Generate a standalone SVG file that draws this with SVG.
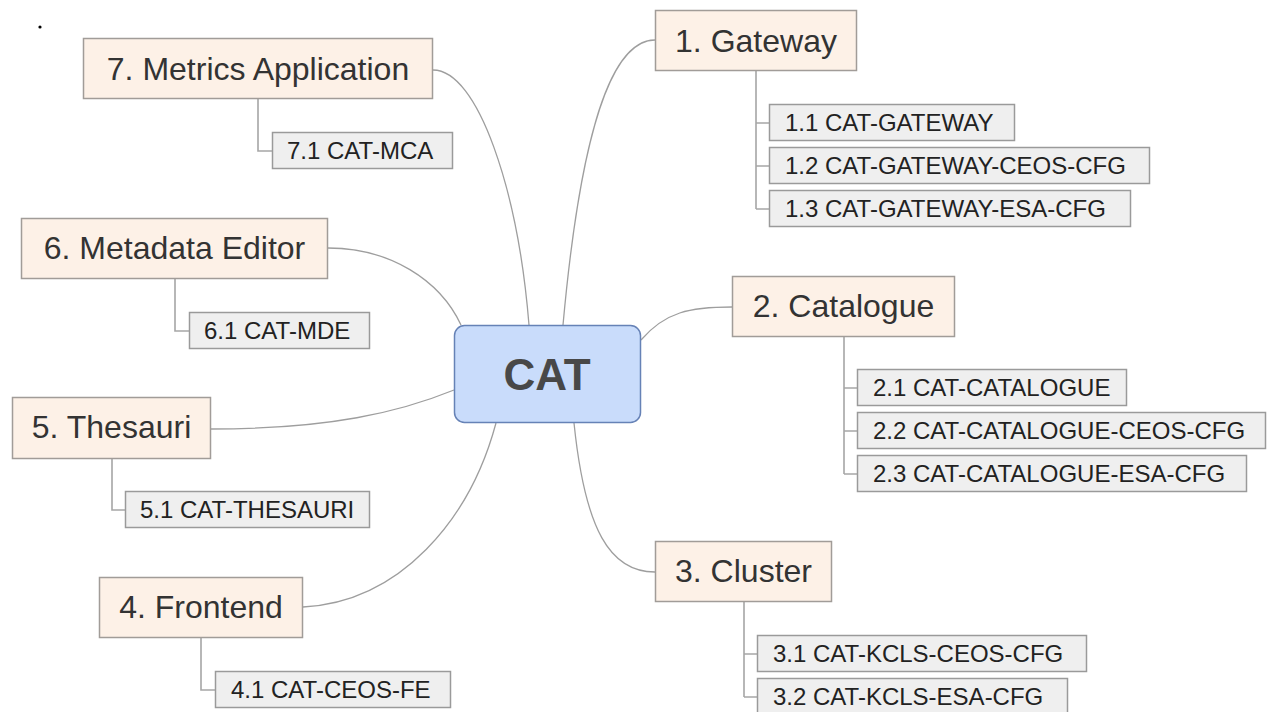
<svg xmlns="http://www.w3.org/2000/svg" width="1271" height="712" viewBox="0 0 1271 712">
<style>
.bg{fill:#ffffff}
.top rect{fill:#fdf1e7;stroke:#a19c98;stroke-width:1.5}
.top text{font-family:"Liberation Sans",Arial,sans-serif;font-size:32px;fill:#333333;text-anchor:middle}
.leaf rect{fill:#efefef;stroke:#9a9a9a;stroke-width:1.5}
.leaf text{font-family:"Liberation Sans",Arial,sans-serif;font-size:24px;fill:#222222}
.root rect{fill:#c9dcfb;stroke:#6682b6;stroke-width:1.5}
.root text{font-family:"Liberation Sans",Arial,sans-serif;font-size:44px;font-weight:bold;fill:#484848;text-anchor:middle}
#connectors path{fill:none;stroke:#9e9e9e;stroke-width:1.3}
#connectors .tree{stroke:#a6a6a6;stroke-width:1.6}
</style>
<rect class="bg" x="0" y="0" width="1271" height="712"/>
<circle cx="40" cy="27" r="1.6" fill="#000000"/>
<g id="connectors">
<path d="M563,325 C578,160 605,40 655,40"/>
<path d="M433,70 C478,70 518,190 529,325"/>
<path d="M328,248 C390,248 440,280 461,325"/>
<path d="M211,429 C330,429 400,412 454,390"/>
<path d="M303,607 C400,602 470,520 496,423"/>
<path d="M641,340 C665,312 690,307 732,307"/>
<path d="M574,423 C585,530 610,572 655,572"/>
<path class="tree" d="M756,71 V209 M756,123 H769 M756,166 H769 M756,209 H769"/>
<path class="tree" d="M844,337 V474 M844,388 H857 M844,431 H857 M844,474 H857"/>
<path class="tree" d="M744,602 V697 M744,654 H757 M744,697 H757"/>
<path class="tree" d="M258,99 V151 H272"/>
<path class="tree" d="M175,279 V331 H189"/>
<path class="tree" d="M112,459 V510 H125"/>
<path class="tree" d="M201,638 V690 H215"/>
</g>
<g id="root" class="root">
<rect x="454.5" y="325.5" width="186" height="97" rx="10"/>
<text x="547" y="390">CAT</text>
</g>
<g id="n1" class="top"><rect x="655.5" y="10.5" width="201" height="60"/><text x="756" y="52">1. Gateway</text></g>
<g id="n1_1" class="leaf"><rect x="769.5" y="104.5" width="245" height="36"/><text x="785" y="131">1.1 CAT-GATEWAY</text></g>
<g id="n1_2" class="leaf"><rect x="769.5" y="147.5" width="380" height="36"/><text x="785" y="174">1.2 CAT-GATEWAY-CEOS-CFG</text></g>
<g id="n1_3" class="leaf"><rect x="769.5" y="190.5" width="361" height="36"/><text x="785" y="217">1.3 CAT-GATEWAY-ESA-CFG</text></g>
<g id="n2" class="top"><rect x="732.5" y="276.5" width="222" height="60"/><text x="843.5" y="317">2. Catalogue</text></g>
<g id="n2_1" class="leaf"><rect x="857.5" y="369.5" width="269" height="36"/><text x="873" y="396">2.1 CAT-CATALOGUE</text></g>
<g id="n2_2" class="leaf"><rect x="857.5" y="412.5" width="408" height="36"/><text x="873" y="439">2.2 CAT-CATALOGUE-CEOS-CFG</text></g>
<g id="n2_3" class="leaf"><rect x="857.5" y="455.5" width="389" height="36"/><text x="873" y="482">2.3 CAT-CATALOGUE-ESA-CFG</text></g>
<g id="n3" class="top"><rect x="655.5" y="541.5" width="176" height="60"/><text x="743.5" y="582">3. Cluster</text></g>
<g id="n3_1" class="leaf"><rect x="757.5" y="635.5" width="329" height="36"/><text x="773" y="662">3.1 CAT-KCLS-CEOS-CFG</text></g>
<g id="n3_2" class="leaf"><rect x="757.5" y="678.5" width="310" height="36"/><text x="773" y="705">3.2 CAT-KCLS-ESA-CFG</text></g>
<g id="n4" class="top"><rect x="99.5" y="577.5" width="203" height="60"/><text x="201" y="618">4. Frontend</text></g>
<g id="n4_1" class="leaf"><rect x="215.5" y="671.5" width="235" height="36"/><text x="231" y="698">4.1 CAT-CEOS-FE</text></g>
<g id="n5" class="top"><rect x="12.5" y="397.5" width="198" height="61"/><text x="111.5" y="438">5. Thesauri</text></g>
<g id="n5_1" class="leaf"><rect x="125.5" y="491.5" width="244" height="36"/><text x="140" y="518">5.1 CAT-THESAURI</text></g>
<g id="n6" class="top"><rect x="21.5" y="218.5" width="306" height="60"/><text x="174.5" y="259">6. Metadata Editor</text></g>
<g id="n6_1" class="leaf"><rect x="189.5" y="312.5" width="180" height="36"/><text x="204" y="339">6.1 CAT-MDE</text></g>
<g id="n7" class="top"><rect x="83.5" y="38.5" width="349" height="60"/><text x="258" y="80">7. Metrics Application</text></g>
<g id="n7_1" class="leaf"><rect x="272.5" y="132.5" width="180" height="36"/><text x="287" y="159">7.1 CAT-MCA</text></g>
</svg>
